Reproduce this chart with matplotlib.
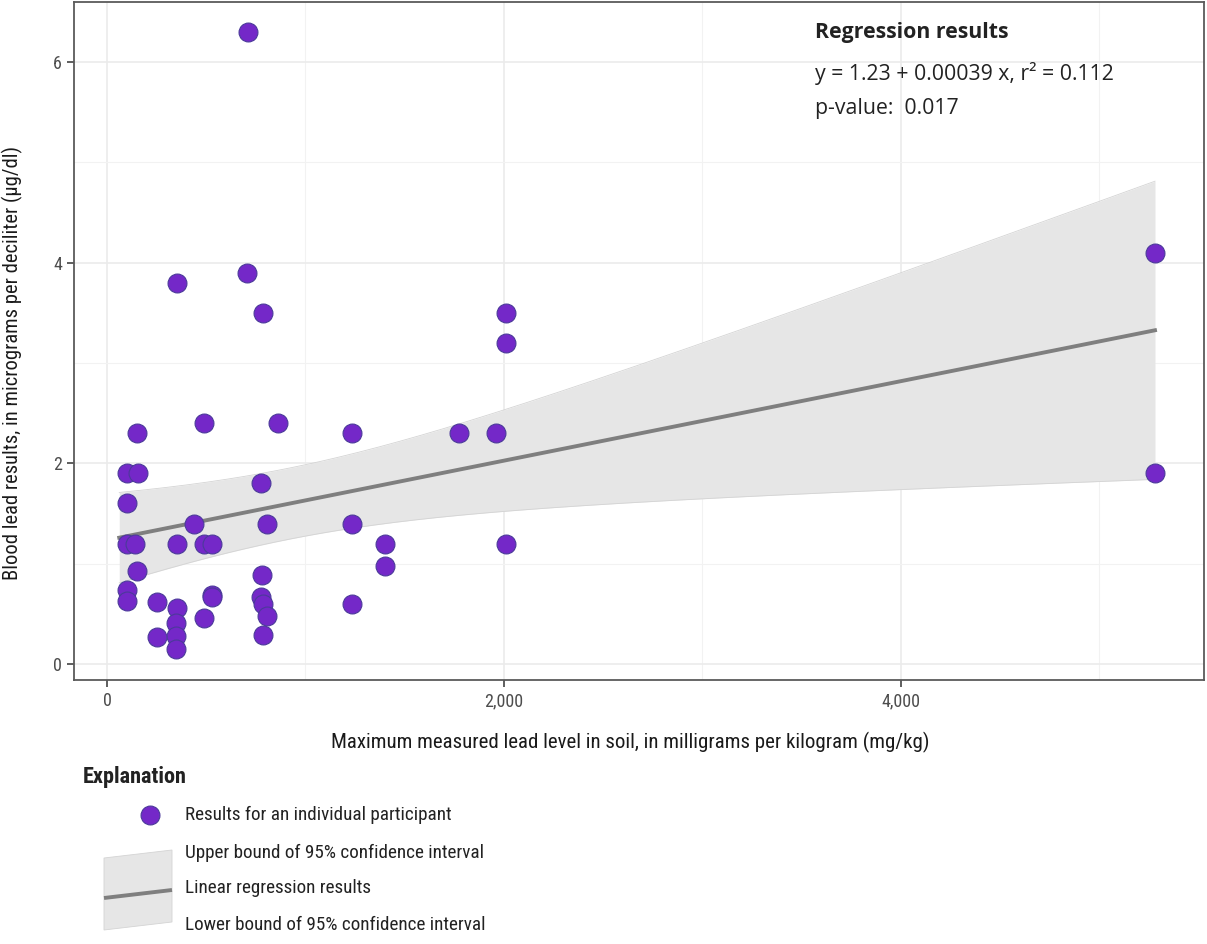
import numpy as np
import matplotlib
matplotlib.use("Agg")
import matplotlib.pyplot as plt
from matplotlib.patches import Polygon

# soil lead (mg/kg) and blood lead (ug/dl)
soil_lead = [711, 706, 353, 786, 2011, 2011, 5282, 5282,
             154, 487, 860, 1233, 1772, 1960,
             102, 158, 776, 102, 437, 808, 1233,
             102, 141, 353, 487, 532, 1401, 2011,
             1401, 154, 783, 102, 102, 250, 530, 530,
             776, 785, 808, 353, 346, 346, 250, 346, 487, 785, 1233]
blood_lead = [6.30, 3.90, 3.80, 3.50, 3.50, 3.20, 4.10, 1.90,
              2.30, 2.40, 2.40, 2.30, 2.30, 2.30,
              1.90, 1.90, 1.80, 1.60, 1.40, 1.40, 1.40,
              1.20, 1.20, 1.20, 1.20, 1.20, 1.20, 1.20,
              0.98, 0.93, 0.89, 0.74, 0.63, 0.62, 0.69, 0.67,
              0.665, 0.60, 0.48, 0.555, 0.405, 0.28, 0.27, 0.15, 0.455, 0.29, 0.60]

x_ticks = [0, 2000, 4000]
x_tick_labels = ["0", "2,000", "4,000"]
y_ticks = [0, 2, 4, 6]

PURPLE = "#7428C8"
EDGE = "#4B3A9A"
LINE_GRAY = "#7F7F7F"
BAND = "#E6E6E6"
narrow = ["Roboto Condensed", "Roboto", "DejaVu Sans"]
plain = ["Open Sans", "DejaVu Sans"]

x = np.array(soil_lead, dtype=float)
y = np.array(blood_lead, dtype=float)

# ordinary least squares with 95% confidence band (like geom_smooth(method="lm"))
n = len(x)
slope, intercept = np.polyfit(x, y, 1)
resid = y - (intercept + slope * x)
s = np.sqrt(np.sum(resid ** 2) / (n - 2))
xs = np.linspace(x.min() - 40, x.max(), 200)
fit = intercept + slope * xs
se = s * np.sqrt(1.0 / n + (xs - x.mean()) ** 2 / np.sum((x - x.mean()) ** 2))
tcrit = 2.014  # t(0.975, df=45)
lower = fit - tcrit * se
upper = fit + tcrit * se

W, H = 1207, 944
fig = plt.figure(figsize=(W / 100, H / 100), dpi=100)
ax = fig.add_axes([74 / W, 1 - 680 / H, (1204 - 74) / W, (680 - 2) / H])

ax.fill_between(xs, lower, upper, color=BAND, lw=0, zorder=1)
ax.plot(xs, upper, color="#D4D4D4", lw=0.6, zorder=1)
ax.plot(xs, lower, color="#D4D4D4", lw=0.6, zorder=1)
ax.plot(xs, fit, color=LINE_GRAY, lw=2.8, zorder=2)
ax.scatter(x, y, s=185, color=PURPLE, edgecolor=EDGE, linewidth=0.8, zorder=3)

ax.set_xlim(-166, 5529)
ax.set_ylim(-0.16, 6.6)
ax.set_xticks(x_ticks)
ax.set_xticklabels(x_tick_labels)
ax.set_yticks(y_ticks)
ax.set_xticks([1000, 3000, 5000], minor=True)
ax.set_yticks([1, 3, 5], minor=True)
ax.grid(True, which="major", color="#EBEBEB", lw=1.2, zorder=0)
ax.grid(True, which="minor", color="#F2F2F2", lw=0.8, zorder=0)
ax.set_axisbelow(True)
for sp in ax.spines.values():
    sp.set_color("#5A5A5A")
    sp.set_linewidth(1.3)
ax.tick_params(which="major", length=5, width=1.1, color="#333333",
               labelcolor="#4D4D4D", labelsize=13, pad=3.6)
ax.tick_params(axis="x", pad=4)
ax.tick_params(which="minor", length=0)
for lab in ax.get_xticklabels() + ax.get_yticklabels():
    lab.set_family(narrow)

ax.set_xlabel("Maximum measured lead level in soil, in milligrams per kilogram (mg/kg)",
              family=narrow, fontsize=15, color="#1A1A1A")
ax.xaxis.set_label_coords(0.492, -0.076)
ax.set_ylabel("Blood lead results, in micrograms per deciliter (\u00b5g/dl)",
              family=narrow, fontsize=14.8, color="#1A1A1A")
ax.yaxis.set_label_coords(-0.045, 0.468)

# regression summary inside the panel
ax.text(0.656, 0.955, "Regression results", transform=ax.transAxes, family=plain,
        fontsize=15.3, fontweight="bold", color="#222222", va="center")
ax.text(0.656, 0.894, "y = 1.23 + 0.00039 x, r\u00b2 = 0.112", transform=ax.transAxes,
        family=plain, fontsize=15.3, color="#222222", va="center")
ax.text(0.656, 0.843, "p-value:  0.017", transform=ax.transAxes, family=plain,
        fontsize=15.3, color="#222222", va="center")

# explanation block, drawn in figure pixel space
lg = fig.add_axes([0, 0, 1, 1])
lg.set_xlim(0, W)
lg.set_ylim(H, 0)
lg.axis("off")
lg.text(83, 777, "Explanation", family=narrow, fontsize=16, fontweight="bold",
        color="#222222", va="center")
lg.scatter([150], [815], s=185, color=PURPLE, edgecolor=EDGE, linewidth=0.8)
lg.add_patch(Polygon([[104, 858], [172, 850], [172, 922], [104, 930]],
                     closed=True, facecolor=BAND, edgecolor="#D4D4D4", lw=0.6))
lg.plot([104, 172], [898, 890], color=LINE_GRAY, lw=2.8, solid_capstyle="butt")
for ty, txt in [(815, "Results for an individual participant"),
                (853, "Upper bound of 95% confidence interval"),
                (888, "Linear regression results"),
                (925, "Lower bound of 95% confidence interval")]:
    lg.text(185, ty, txt, family=narrow, fontsize=13.8, color="#222222", va="center")

fig.savefig("out.png", dpi=100)
